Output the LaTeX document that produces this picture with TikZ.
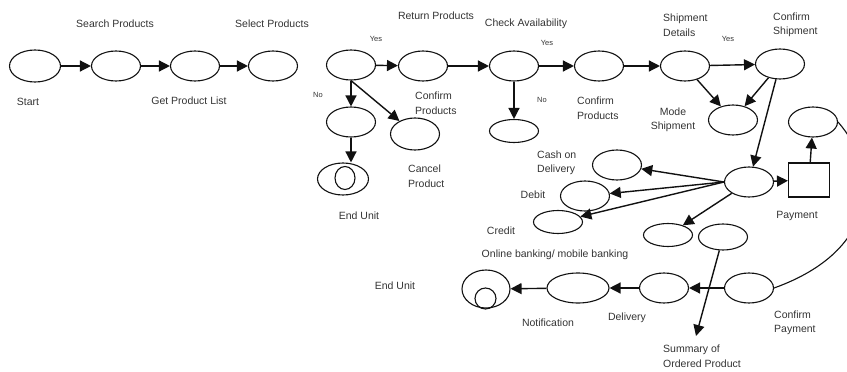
\documentclass[tikz,border=0pt]{standalone}
\usepackage{fontspec}
\setmainfont{Liberation Sans}
\usetikzlibrary{shapes.geometric,arrows.meta}

\definecolor{inkline}{HTML}{111111}
\definecolor{inktext}{HTML}{333333}

\tikzset{
  state/.style={ellipse, draw=inkline, line width=1.1pt, minimum width=49pt,
                minimum height=30pt, inner sep=0pt},
  flat/.style={state, minimum height=23pt},
  boxstate/.style={rectangle, draw=inkline, line width=1.1pt, minimum width=41pt,
                   minimum height=34pt, inner sep=0pt},
  lbl/.style={text=inktext, font=\fontsize{10.5}{14.5}\selectfont, inner sep=0pt},
  lblleft/.style={lbl, align=left, anchor=west},
  tiny/.style={text=inktext, font=\fontsize{7.5}{9}\selectfont, inner sep=0pt},
  flow/.style={draw=inkline, line width=1.4pt,
               -{Triangle[length=11pt,width=11pt]}, shorten >=0pt},
  plain/.style={draw=inkline, line width=1.1pt}
}

\begin{document}
\begin{tikzpicture}[x=1pt,y=-1pt]
\useasboundingbox (0,0) rectangle (847,372);

% ---------- top row ----------
\node[state, minimum width=51pt, minimum height=32pt] (start) at (35,66) {};
\node[state] (search)   at (116,66) {};
\node[state] (getlist)  at (195,66) {};
\node[state] (select)   at (273,66) {};
\node[state] (dec1)     at (351,65) {};
\node[state] (ret)      at (423,66) {};
\node[state] (check)    at (514,66) {};
\node[state] (conf2)    at (599,66) {};
\node[state] (ship)     at (685,66) {};
\node[state] (confship) at (780,64) {};

% ---------- branches below ----------
\node[state] (dec1no) at (351,122) {};
\node[state, minimum height=32pt] (cancel) at (415,134) {};
\node[state, minimum width=51pt, minimum height=32pt] (end1) at (343,179) {};
\node[ellipse, draw=inkline, line width=1.1pt, minimum width=20pt,
      minimum height=23pt, inner sep=0pt] (end1in) at (345,178) {};
\node[flat] (unavail) at (514,131) {};
\node[state] (mode) at (733,120) {};

% ---------- payment ----------
\node[state] (pay) at (749,182) {};
\node[boxstate] (paybox) at (809,180) {};
\node[state] (topr) at (813,122) {};
\node[state] (cash) at (617,165) {};
\node[state] (debit) at (585,196) {};
\node[flat] (credit) at (558,222) {};
\node[flat] (online) at (668,235) {};
\node[state, minimum height=26pt] (summ) at (723,237) {};
\coordinate (sumend) at (696,336);

% ---------- bottom row ----------
\node[state] (confpay)  at (749,288) {};
\node[state] (delivery) at (664,288) {};
\node[state, minimum width=62pt] (notif) at (578,288) {};
\node[state, minimum width=48pt, minimum height=38pt] (end2) at (486,289) {};
\node[circle, draw=inkline, line width=1.1pt, minimum size=21pt,
      inner sep=0pt] (end2in) at (485.5,298.5) {};

% ---------- connectors ----------
\draw[flow] (start) -- (search);
\draw[flow] (search) -- (getlist);
\draw[flow] (getlist) -- (select);
\draw[flow] (dec1) -- (ret);
\draw[flow] (ret) -- (check);
\draw[flow] (check) -- (conf2);
\draw[flow] (conf2) -- (ship);
\draw[flow] (ship) -- (confship);
\draw[flow] (dec1) -- (dec1no);
\draw[flow] (dec1.south) -- (cancel);
\draw[flow] (dec1no.south) -- (dec1no.south |- end1.north);
\draw[flow] (check) -- (unavail);
\draw[flow] (ship) -- (mode);
\draw[flow] (confship) -- (mode);
\draw[flow] (confship) -- (pay);
\draw[flow] (pay) -- (paybox);
\draw[flow] (paybox) -- (topr);
\draw[flow] (pay.west) -- (cash);
\draw[flow] (pay.west) -- (debit);
\draw[flow] (pay.west) -- (credit);
\draw[flow] (pay) -- (online);
\draw[flow] (confpay) -- (delivery);
\draw[flow] (delivery) -- (notif);
\draw[flow] (notif) -- (end2);
\draw[flow] (summ) -- (sumend);
\draw[plain] (topr.east) .. controls (880,170) and (880,250) .. (confpay.east);

% ---------- labels ----------
\node[lbl] at (115,24) {Search Products};
\node[lbl] at (272,24) {Select Products};
\node[lbl] at (28,102) {Start};
\node[lbl] at (189,101) {Get Product List};
\node[lbl] at (436,16) {Return Products};
\node[lbl] at (526,24) {Check Availability};
\node[tiny] at (376,39) {Yes};
\node[tiny] at (547,43) {Yes};
\node[tiny] at (728,39) {Yes};
\node[tiny] at (318,95) {No};
\node[tiny] at (542,100) {No};
\node[lblleft] at (415,103) {Confirm\\Products};
\node[lblleft] at (408,176) {Cancel\\Product};
\node[lbl] at (359,216) {End Unit};
\node[lblleft] at (577,108) {Confirm\\Products};
\node[lblleft] at (663,25) {Shipment\\Details};
\node[lblleft] at (773,25) {Confirm\\Shipment};
\node[lbl, align=center] at (673,120) {Mode\\Shipment};
\node[lbl] at (797,216) {Payment};
\node[lblleft] at (537,163) {Cash on\\Delivery};
\node[lbl] at (533,195) {Debit};
\node[lbl] at (501,231) {Credit};
\node[lbl] at (555,255) {Online banking/ mobile banking};
\node[lblleft] at (774,323) {Confirm\\Payment};
\node[lbl] at (627,318) {Delivery};
\node[lbl] at (548,323) {Notification};
\node[lbl] at (395,286) {End Unit};
\node[lblleft] at (663,356) {Summary of\\Ordered Product};
\end{tikzpicture}
\end{document}
